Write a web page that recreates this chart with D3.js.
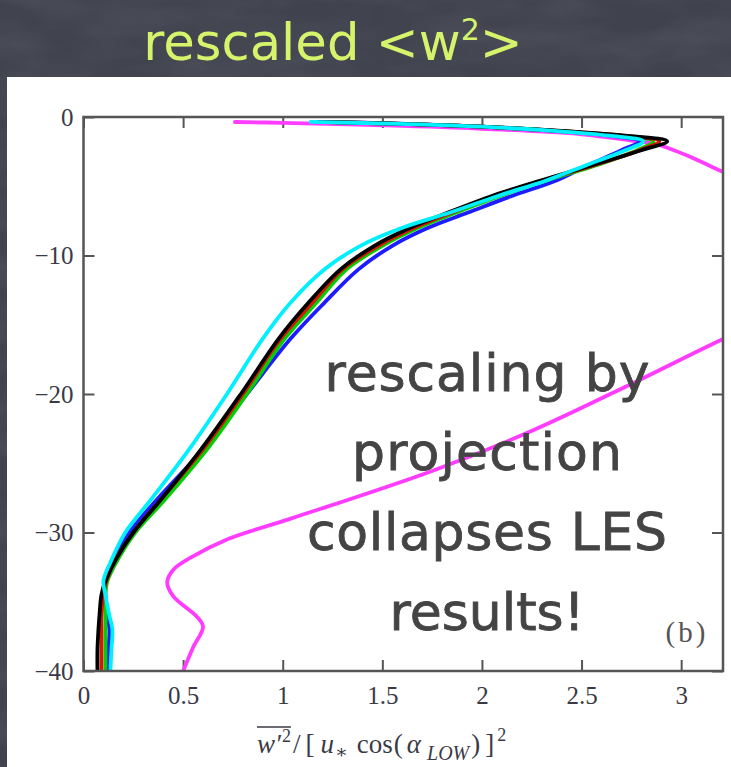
<!DOCTYPE html>
<html>
<head>
<meta charset="utf-8">
<script src="https://cdn.jsdelivr.net/npm/d3@7/dist/d3.min.js"></script>
<style>
  html, body { margin: 0; padding: 0; background: #41434f; }
  svg { display: block; }
</style>
</head>
<body>
<svg id="chart" width="731" height="767"></svg>
<script>
// depth levels shared by the five LES profiles (surface -> tip -> bottom)
const zLES = [-0.35, -0.5, -0.7, -1.0, -1.35, -1.75, -2.4, -3.5, -4.6, -5.7, -6.9, -8, -9.3,
  -11, -13.4, -16, -20, -24, -27.6, -30, -32, -33.5, -34.5, -36, -37, -38.5, -40];

// rescaled w'^2, one array per run
const wBlack = [1.18, 1.6, 2.0, 2.4, 2.72, 2.93, 2.8, 2.55, 2.29, 2.05, 1.83, 1.64, 1.46,
  1.29, 1.13, 0.98, 0.79, 0.59, 0.39, 0.25, 0.16, 0.11, 0.09, 0.08, 0.075, 0.07, 0.07];
const wRed = [1.18, 1.6, 2.0, 2.38, 2.7, 2.89, 2.79, 2.56, 2.3, 2.07, 1.85, 1.66, 1.48,
  1.3, 1.15, 0.99, 0.8, 0.6, 0.39, 0.25, 0.16, 0.115, 0.1, 0.09, 0.09, 0.09, 0.09];
const wGreen = [1.2, 1.6, 2.0, 2.37, 2.68, 2.86, 2.78, 2.57, 2.32, 2.09, 1.87, 1.68, 1.5,
  1.32, 1.17, 1.01, 0.82, 0.62, 0.41, 0.26, 0.17, 0.12, 0.11, 0.11, 0.11, 0.11, 0.11];
const wBlue = [1.22, 1.62, 2.0, 2.36, 2.64, 2.79, 2.7, 2.53, 2.37, 2.15, 1.93, 1.73, 1.55,
  1.38, 1.21, 1.04, 0.82, 0.6, 0.37, 0.23, 0.15, 0.11, 0.11, 0.12, 0.13, 0.125, 0.12];
const wCyan = [1.14, 1.58, 2.0, 2.36, 2.64, 2.81, 2.72, 2.52, 2.32, 2.08, 1.84, 1.6, 1.39,
  1.21, 1.04, 0.9, 0.72, 0.53, 0.34, 0.21, 0.14, 0.1, 0.11, 0.13, 0.145, 0.14, 0.135];

// magenta profile leaves the frame on the right and comes back
const zMagentaTop = [-0.36, -0.42, -0.6, -0.85, -1.25, -1.7, -1.95, -2.9, -3.9, -5];
const wMagentaTop = [0.76, 1.0, 1.5, 2.0, 2.5, 2.75, 2.87, 3.05, 3.2, 3.38];
const zMagentaBottom = [-14.5, -16.1, -19.2, -22.6, -25.5, -29.0, -30.5, -31.8, -32.7,
  -33.6, -34.6, -36.1, -36.8, -38.3, -40];
const wMagentaBottom = [3.45, 3.2, 2.76, 2.26, 1.76, 1.04, 0.72, 0.54, 0.45, 0.42, 0.45,
  0.57, 0.6, 0.55, 0.5];

const xTicks = [0, 0.5, 1, 1.5, 2, 2.5, 3];
const yTicks = [-40, -30, -20, -10, 0];
const noteLines = ["rescaling by", "projection", "collapses LES", "results!"];

const svg = d3.select("#chart");
const W = 731, H = 767;
const defs = svg.append("defs");

// faint chalkboard texture for the slide background
const chalk = defs.append("filter").attr("id", "chalk")
  .attr("x", 0).attr("y", 0).attr("width", "100%").attr("height", "100%");
chalk.append("feTurbulence").attr("type", "fractalNoise")
  .attr("baseFrequency", "0.012 0.035").attr("numOctaves", 3).attr("seed", 7);
chalk.append("feColorMatrix").attr("type", "matrix")
  .attr("values", "0 0 0 0 1  0 0 0 0 1  0 0 0 0 1  0 0 0 0.1 -0.03");
chalk.append("feComposite").attr("in2", "SourceGraphic").attr("operator", "in");

// slide background + white figure panel
svg.append("rect").attr("width", W).attr("height", H).attr("fill", "#40424e");
svg.append("rect").attr("width", W).attr("height", H).attr("fill", "#40424e")
  .attr("filter", "url(#chalk)");
svg.append("rect").attr("x", 7).attr("y", 77).attr("width", W - 7).attr("height", H - 77)
  .attr("fill", "#ffffff");

// title
const title = svg.append("text")
  .attr("x", 333).attr("y", 60)
  .attr("text-anchor", "middle")
  .style("font-family", "'DejaVu Sans', sans-serif")
  .style("font-size", "50px")
  .style("fill", "#d5f46c");
title.append("tspan").text("rescaled <w");
title.append("tspan").attr("dy", -20).style("font-size", "30px").text("2");
title.append("tspan").attr("dy", 20).text(">");
{
  const len = title.node().getComputedTextLength();
  title.style("font-size", (50 * 380 / len) + "px");
}

// plot scales
const plotL = 83.5, plotR = 723, plotT = 117, plotB = 671;
const x = d3.scaleLinear().domain([0, 3.21]).range([plotL, plotR]);
const y = d3.scaleLinear().domain([-40, 0]).range([plotB, plotT]);

defs.append("clipPath").attr("id", "plotClip")
  .append("rect").attr("x", plotL).attr("y", plotT)
  .attr("width", plotR - plotL).attr("height", plotB - plotT);

const axisColor = "#555";
const labelFont = "'Liberation Serif', 'DejaVu Serif', serif";

function styleAxis(g) {
  g.select(".domain").remove();
  g.selectAll(".tick line").attr("stroke", axisColor).attr("stroke-width", 2);
  g.selectAll(".tick text")
    .style("font-family", labelFont)
    .style("font-size", "25px")
    .style("fill", "#3a3a46");
}

svg.append("g").attr("transform", `translate(0,${plotB})`)
  .call(d3.axisBottom(x).tickValues(xTicks).tickSize(-11).tickSizeOuter(0)
    .tickPadding(15).tickFormat(d3.format("~g")))
  .call(styleAxis);
svg.append("g").attr("transform", `translate(0,${plotT})`)
  .call(d3.axisTop(x).tickValues(xTicks).tickSize(-11).tickSizeOuter(0).tickFormat(""))
  .call(styleAxis);
svg.append("g").attr("transform", `translate(${plotL},0)`)
  .call(d3.axisLeft(y).tickValues(yTicks).tickSize(-11).tickSizeOuter(0)
    .tickPadding(10).tickFormat(d3.format("d")))
  .call(styleAxis);
svg.append("g").attr("transform", `translate(${plotR},0)`)
  .call(d3.axisRight(y).tickValues(yTicks).tickSize(-11).tickSizeOuter(0).tickFormat(""))
  .call(styleAxis);

// profiles
const line = d3.line()
  .x(d => x(d[0]))
  .y(d => y(d[1]))
  .curve(d3.curveCatmullRom.alpha(0.5));

const curves = svg.append("g").attr("clip-path", "url(#plotClip)")
  .attr("fill", "none").attr("stroke-width", 3.8)
  .attr("stroke-linejoin", "round").attr("stroke-linecap", "round");

function addProfile(ws, zs, color) {
  curves.append("path")
    .datum(d3.zip(ws, zs))
    .attr("stroke", color)
    .attr("d", line);
}

addProfile(wMagentaTop, zMagentaTop, "#ff3cff");
addProfile(wMagentaBottom, zMagentaBottom, "#ff3cff");
addProfile(wBlue, zLES, "#1c1cff");
addProfile(wGreen, zLES, "#00d000");
addProfile(wRed, zLES, "#d21a00");
addProfile(wBlack, zLES, "#000000");
addProfile(wCyan, zLES, "#00f0ff");

// frame
svg.append("rect")
  .attr("x", plotL).attr("y", plotT)
  .attr("width", plotR - plotL).attr("height", plotB - plotT)
  .attr("fill", "none").attr("stroke", axisColor).attr("stroke-width", 2.5);

// panel tag
svg.append("text")
  .attr("x", 687).attr("y", 642)
  .attr("text-anchor", "middle")
  .style("font-family", labelFont)
  .style("font-size", "29px")
  .style("letter-spacing", "3px")
  .style("fill", "#555")
  .text("(b)");

// x axis label: overline(w'^2) / [u* cos(alpha_LOW)]^2
const xl = svg.append("text")
  .attr("x", 257).attr("y", 753)
  .style("font-family", labelFont)
  .style("font-size", "27px")
  .style("fill", "#3a3a46");
xl.append("tspan").style("font-style", "italic").text("w′");
xl.append("tspan").attr("dy", -11).attr("dx", 1).style("font-size", "18px").text("2");
xl.append("tspan").attr("dy", 11).attr("dx", 2).text("/");
xl.append("tspan").attr("dx", 5).text("[");
xl.append("tspan").attr("dx", 6).style("font-style", "italic").text("u");
xl.append("tspan").attr("dy", 5).attr("dx", 1).style("font-size", "19px").text("∗");
xl.append("tspan").attr("dy", -5).attr("dx", 9).text("cos");
xl.append("tspan").attr("dx", 1).text("(");
xl.append("tspan").attr("dx", 4).style("font-style", "italic").text("α");
xl.append("tspan").attr("dy", 7).attr("dx", 6).style("font-style", "italic").style("font-size", "20px").text("LOW");
xl.append("tspan").attr("dy", -7).attr("dx", 2).text(")");
xl.append("tspan").attr("dx", 5).text("]");
xl.append("tspan").attr("dy", -12).attr("dx", 3).style("font-size", "18px").text("2");
{
  const n = xl.node();
  const x0 = n.getStartPositionOfChar(0).x;
  const x1 = n.getEndPositionOfChar(2).x;
  svg.append("line")
    .attr("x1", x0).attr("x2", x1)
    .attr("y1", 727).attr("y2", 727)
    .attr("stroke", "#3a3a46").attr("stroke-width", 1.4);
}

// handwritten note over the plot
const noteY = [391, 470, 550, 630];
const noteWidths = [325, 270, 360, 195];
noteLines.forEach((t, i) => {
  svg.append("text")
    .attr("x", 487).attr("y", noteY[i])
    .attr("text-anchor", "middle")
    .attr("textLength", noteWidths[i])
    .attr("lengthAdjust", "spacing")
    .style("font-family", "'DejaVu Sans', sans-serif")
    .style("font-size", "52px")
    .style("fill", "#444444")
    .style("stroke", "#444444")
    .style("stroke-width", "0.8px")
    .text(t);
});
</script>
</body>
</html>
